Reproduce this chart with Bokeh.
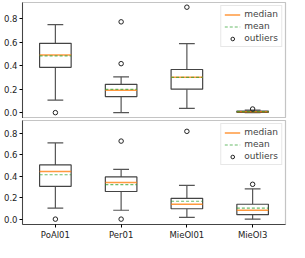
import numpy as np
from bokeh.plotting import figure
from bokeh.layouts import column
from bokeh.models import FixedTicker, PrintfTickFormatter, Range1d, Legend, LegendItem
from bokeh.embed import file_html
from bokeh.resources import INLINE

categories = ["PoAl01", "Per01", "MieOl01", "MieOl3"]

# top panel statistics
top_whisk_lo = [0.107, 0.0, 0.036, 0.0]
top_q1 = [0.387, 0.137, 0.200, 0.003]
top_median = [0.491, 0.191, 0.303, 0.008]
top_mean = [0.485, 0.198, 0.301, 0.009]
top_q3 = [0.592, 0.242, 0.368, 0.013]
top_whisk_hi = [0.752, 0.306, 0.589, 0.022]
top_out_cat = ["PoAl01", "Per01", "Per01", "MieOl01", "MieOl3"]
top_out_val = [0.0, 0.775, 0.418, 0.900, 0.031]

# bottom panel statistics
bot_whisk_lo = [0.103, 0.083, 0.017, 0.0]
bot_q1 = [0.306, 0.258, 0.097, 0.042]
bot_median = [0.444, 0.342, 0.139, 0.083]
bot_mean = [0.414, 0.322, 0.167, 0.103]
bot_q3 = [0.506, 0.394, 0.194, 0.139]
bot_whisk_hi = [0.711, 0.464, 0.314, 0.283]
bot_out_cat = ["PoAl01", "Per01", "Per01", "MieOl01", "MieOl3"]
bot_out_val = [0.0, 0.728, 0.0, 0.819, 0.325]

y_ticks = [0.0, 0.2, 0.4, 0.6, 0.8]

BOX_W = 0.48
CAP_W = 0.24
FONT = "DejaVu Sans"


def make_panel(lo, q1, med, mean, q3, hi, out_cat, out_val, y_end, show_x, height, border_bottom):
    pos = np.arange(1, len(categories) + 1, dtype=float)
    out_pos = np.array([categories.index(c) + 1 for c in out_cat], dtype=float)
    p = figure(width=289, height=height, output_backend="svg", toolbar_location=None,
               x_range=Range1d(0.5, 4.5), y_range=Range1d(-0.05, y_end),
               min_border_left=22, min_border_right=4, min_border_top=2,
               min_border_bottom=border_bottom)
    p.xgrid.visible = False
    p.ygrid.visible = False
    p.outline_line_color = "#c4c4c4"
    p.outline_line_width = 1.2
    p.background_fill_color = "white"

    # whiskers
    p.segment(pos, np.array(q3), pos, np.array(hi), line_color="#555555", line_width=1.2)
    p.segment(pos, np.array(q1), pos, np.array(lo), line_color="#555555", line_width=1.2)
    # caps
    p.segment(pos - CAP_W / 2, np.array(hi), pos + CAP_W / 2, np.array(hi), line_color="#555555", line_width=1.2)
    p.segment(pos - CAP_W / 2, np.array(lo), pos + CAP_W / 2, np.array(lo), line_color="#555555", line_width=1.2)
    # boxes
    p.vbar(x=pos, width=BOX_W, bottom=np.array(q1), top=np.array(q3),
           fill_color="white", line_color="#444444", line_width=1.2)
    r_med = p.segment(pos - BOX_W / 2, np.array(med), pos + BOX_W / 2, np.array(med),
                      line_color="#ff7f0e", line_alpha=0.8, line_width=1.5)
    r_mean = p.segment(pos - BOX_W / 2, np.array(mean), pos + BOX_W / 2, np.array(mean),
                       line_color="#2ca02c", line_alpha=0.7, line_width=1.2, line_dash="3 2")
    r_out = p.scatter(out_pos, np.array(out_val), marker="circle", size=4.5,
                      fill_color=None, line_color="#222222", line_width=1)

    legend = Legend(items=[LegendItem(label="median", renderers=[r_med]),
                           LegendItem(label="mean", renderers=[r_mean]),
                           LegendItem(label="outliers", renderers=[r_out])],
                    location="top_right", label_text_font=FONT, label_text_font_size="9px",
                    label_height=9, glyph_height=9, glyph_width=16, spacing=2,
                    padding=3, margin=3, label_standoff=4,
                    border_line_color="#d0d0d0", background_fill_alpha=0.9)
    p.add_layout(legend)

    p.yaxis.ticker = FixedTicker(ticks=y_ticks)
    p.yaxis.formatter = PrintfTickFormatter(format="%.1f")
    p.yaxis.major_label_text_font = FONT
    p.yaxis.major_label_text_font_size = "8.5px"
    p.yaxis.major_label_text_color = "#222222"
    p.yaxis.major_tick_out = 3
    p.yaxis.major_tick_in = 0
    p.yaxis.minor_tick_line_color = None
    p.yaxis.axis_line_color = "#444444"
    p.yaxis.major_label_standoff = 2

    p.xaxis.minor_tick_line_color = None
    p.xaxis.axis_line_color = "#444444"
    p.xaxis.major_tick_in = 0
    if show_x:
        p.xaxis.ticker = FixedTicker(ticks=list(pos))
        p.xaxis.major_label_overrides = {float(i + 1): c for i, c in enumerate(categories)}
        p.xaxis.major_tick_out = 3
        p.xaxis.major_label_text_font = FONT
        p.xaxis.major_label_text_font_size = "8.5px"
        p.xaxis.major_label_text_color = "#222222"
        p.xaxis.major_label_standoff = 2
    else:
        p.xaxis.ticker = FixedTicker(ticks=[])
        p.xaxis.major_tick_out = 0
        p.xaxis.major_label_standoff = 0
    return p


p_top = make_panel(top_whisk_lo, top_q1, top_median, top_mean, top_q3, top_whisk_hi,
                   top_out_cat, top_out_val, 0.94, False, 118, 0)
p_bot = make_panel(bot_whisk_lo, bot_q1, bot_median, bot_mean, bot_q3, bot_whisk_hi,
                   bot_out_cat, bot_out_val, 0.92, True, 124, 0)

layout = column(p_top, p_bot, spacing=0)
open("out.html", "w").write(file_html(layout, INLINE))
